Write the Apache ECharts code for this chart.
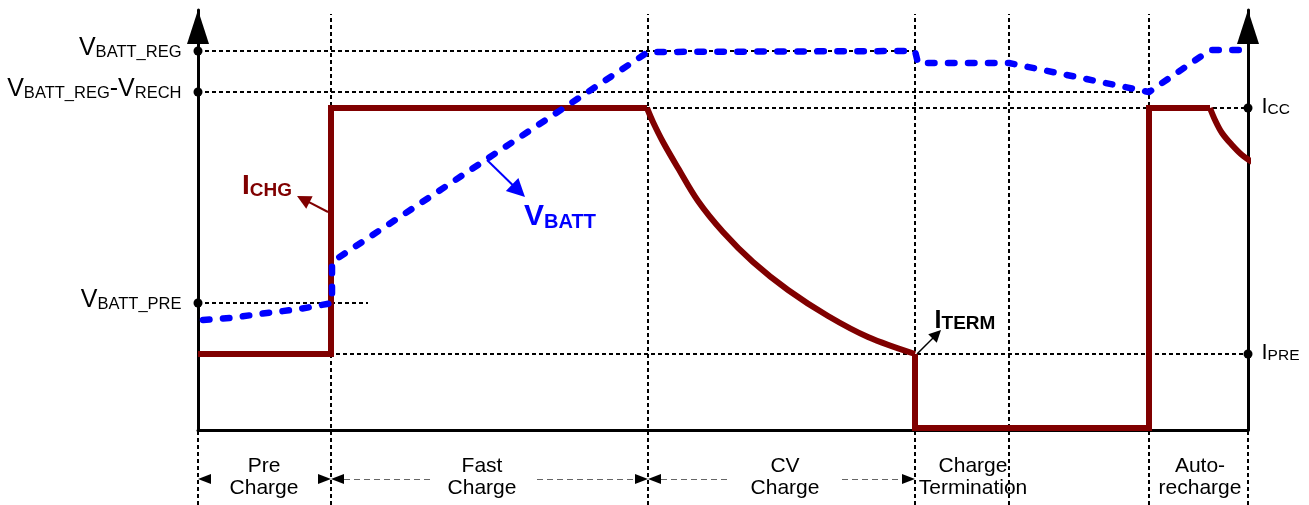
<!DOCTYPE html>
<html>
<head>
<meta charset="utf-8">
<style>
  html, body { margin: 0; padding: 0; background: #fff; }
  #chart { width: 1309px; height: 505px; }
</style>
<script src="https://cdn.jsdelivr.net/npm/echarts@6/dist/echarts.min.js"></script>
</head>
<body>
<div id="chart"></div>
<script>
// time axis: 0 .. 105, level axis: 0 .. 42 (arbitrary units, 10 px per unit)
const phaseX = [13.3, 45.0, 71.7, 81.1, 95.1];
const phaseNames = ['Pre\nCharge', 'Fast\nCharge', 'CV\nCharge', 'Charge\nTermination', 'Auto-\nrecharge'];
const phaseLabelX = [6.6, 28.4, 58.7, 77.5, 100.2];

// left axis levels (voltage)
const leftLevels = [37.9, 33.8, 12.7];
const leftLabels = ['{m|V}{s|BATT_REG}', '{m|V}{s|BATT_REG}{m|-V}{s|RECH}', '{m|V}{s|BATT_PRE}'];
// right axis levels (current)
const rightLevels = [32.2, 7.6];
const rightLabels = ['{m|I}{s|CC}', '{m|I}{s|PRE}'];

// horizontal dotted guides: [level, xFrom, xTo]
const hGuides = [
  [37.9, 0, 71.7],
  [33.8, 0, 95.1],
  [32.2, 13.3, 105],
  [12.7, 0, 17.0],
  [7.6, 11.7, 105]
];

// charge current: stepped parts
const ichgSteps = [
  [0, 7.6], [13.3, 7.6], [13.3, 32.2], [44.9, 32.2]
];
const ichgTermSteps = [
  [71.7, 7.6], [71.7, 0.2], [95.1, 0.2], [95.1, 32.2], [101.2, 32.2]
];
// charge current: CV taper curves
const ichgCv = [
  [44.9, 32.2], [45.5, 30.8], [46.5, 28.8], [48, 26.2], [50, 22.9], [52.5, 19.8], [55.5, 16.8],
  [59, 14.0], [63, 11.4], [67, 9.3], [71.7, 7.6]
];
const ichgAuto = [
  [101.2, 32.2], [101.7, 31.0], [102.4, 29.7], [103.4, 28.5], [104.4, 27.5], [105.4, 26.8]
];

// battery voltage
const vbatt = [
  [0.5, 11.0], [3.2, 11.2], [6.9, 11.7], [10.2, 12.1], [13.4, 12.7],
  [13.4, 16.8], [45.0, 37.8], [71.7, 37.9], [72.0, 36.7], [81.1, 36.7],
  [95.1, 33.8], [100.2, 37.3], [101.4, 38.0], [104.2, 38.0]
];

// callout arrows: [from, to]
const ichgArrow = [[13.0, 21.8], [9.9, 23.4]];
const vbattArrow = [[28.9, 27.0], [32.7, 23.3]];
const itermArrow = [[71.9, 7.6], [74.3, 10.0]];

// callout text centres
const ichgText = [6.9, 24.4];
const vbattText = [36.2, 21.3];
const itermText = [76.7, 10.9];

// phase span arrows below the axis
const spanY = -4.9;
const spanTips = [[0, 'left'], [13.3, 'right'], [13.3, 'left'], [45.0, 'right'], [45.0, 'left'], [71.7, 'right']];
const spanTails = [[14.6, 23.2], [33.9, 43.7], [46.3, 53.0], [64.4, 70.4]];

const PX = 10;
const FONT = '"Liberation Sans", Arial, sans-serif';
const RED = '#800000', BLUE = '#0000ff';

function arrowCoords(from, to, sizePx) {
  // pull end back so the tip of the centred triangle sits on 'to'
  const dx = to[0] - from[0], dy = to[1] - from[1];
  const len = Math.hypot(dx, dy) * PX;
  const k = (len - sizePx / 2) / len;
  return [from, [from[0] + dx * k, from[1] + dy * k]];
}

const guideLines = hGuides.map(g => ({ coords: [[g[1], g[0]], [g[2], g[0]]] }))
  .concat(phaseX.map(x => ({ coords: [[x, -7.5], [x, 41.6]] })))
  .concat([0, 105].map(x => ({ coords: [[x, -7.5], [x, 0]] })));

function arrowSeries(arrow, color, width, size) {
  return {
    type: 'lines', coordinateSystem: 'cartesian2d', clip: false, silent: true, z: 5,
    symbol: ['none', 'triangle'], symbolSize: size,
    lineStyle: { color: color, width: width, opacity: 1, curveness: 0 },
    data: [{ coords: arrowCoords(arrow[0], arrow[1], size) }]
  };
}

function textSeries(pos, text, color, big, small) {
  return {
    type: 'scatter', clip: false, silent: true, z: 7, symbolSize: 1,
    itemStyle: { color: 'rgba(0,0,0,0)', opacity: 1 },
    data: [{ value: pos }],
    label: {
      show: true, position: 'inside', formatter: text, opacity: 1, color: color,
      rich: {
        m: { fontSize: big, fontWeight: 'bold', color: color, fontFamily: FONT, verticalAlign: 'bottom' },
        s: { fontSize: small, fontWeight: 'bold', color: color, fontFamily: FONT, verticalAlign: 'bottom' }
      }
    }
  };
}

function redSeries(data, smooth) {
  return {
    type: 'line', data: data, symbol: 'none', clip: false, silent: true, z: 3, smooth: smooth,
    lineStyle: { color: RED, width: 6, join: 'miter', cap: 'butt', opacity: 1 }
  };
}

const yAxisBase = {
  type: 'value', min: 0, max: 42,
  axisLine: {
    show: true, onZero: false, symbol: ['none', 'triangle'], symbolSize: [22, 34], symbolOffset: [0, -17],
    lineStyle: { color: '#000', width: 3 }
  },
  axisTick: { show: false }, axisLabel: { show: false }, splitLine: { show: false }
};

const chart = echarts.init(document.getElementById('chart'));
chart.setOption({
  animation: false,
  backgroundColor: '#fff',
  grid: { left: 198, right: 61, top: 10, bottom: 75, outerBoundsMode: 'none' },
  xAxis: {
    type: 'value', min: 0, max: 105,
    axisLine: { show: true, onZero: false, lineStyle: { color: '#000', width: 3 } },
    axisTick: { show: false }, axisLabel: { show: false }, splitLine: { show: false }
  },
  yAxis: [
    Object.assign({}, yAxisBase, { position: 'left' }),
    Object.assign({}, yAxisBase, { position: 'right' })
  ],
  series: [
    {
      type: 'lines', coordinateSystem: 'cartesian2d', clip: false, silent: true, z: 1,
      lineStyle: { color: '#000', width: 2, type: [4, 3], opacity: 1 },
      data: guideLines
    },
    redSeries(ichgSteps, false),
    redSeries(ichgCv, 0.35),
    redSeries(ichgTermSteps, false),
    redSeries(ichgAuto, 0.35),
    {
      type: 'line', data: vbatt, symbol: 'none', clip: false, silent: true, z: 4,
      lineStyle: { color: BLUE, width: 6.5, type: [6.5, 13.5], cap: 'round', join: 'round', opacity: 1 }
    },
    arrowSeries(ichgArrow, RED, 2, 14),
    arrowSeries(vbattArrow, BLUE, 2, 18),
    arrowSeries(itermArrow, '#000', 1.5, 12),
    {
      type: 'lines', coordinateSystem: 'cartesian2d', clip: false, silent: true, z: 2,
      lineStyle: { color: '#666', width: 1, type: [6, 4], opacity: 1 },
      data: spanTails.map(t => ({ coords: [[t[0], spanY], [t[1], spanY]] }))
    },
    {
      type: 'scatter', clip: false, silent: true, z: 5,
      symbol: 'triangle', symbolSize: [10, 13], itemStyle: { color: '#000', opacity: 1 },
      data: spanTips.map(t => ({
        value: [t[0] + (t[1] === 'left' ? 0.65 : -0.65), spanY],
        symbolRotate: t[1] === 'left' ? 90 : -90
      }))
    },
    {
      type: 'scatter', clip: false, silent: true, z: 6,
      symbol: 'circle', symbolSize: 9, itemStyle: { color: '#000', opacity: 1 },
      data: leftLevels.map((y, i) => ({ value: [0, y], label: { formatter: leftLabels[i] } })),
      label: {
        show: true, position: 'left', distance: 12, offset: [0, -3], color: '#000', opacity: 1,
        rich: {
          m: { fontSize: 25, color: '#000', fontFamily: FONT, verticalAlign: 'bottom' },
          s: { fontSize: 16.5, color: '#000', fontFamily: FONT, verticalAlign: 'bottom' }
        }
      }
    },
    {
      type: 'scatter', clip: false, silent: true, z: 6,
      symbol: 'circle', symbolSize: 9, itemStyle: { color: '#000', opacity: 1 },
      data: rightLevels.map((y, i) => ({ value: [105, y], label: { formatter: rightLabels[i] } })),
      label: {
        show: true, position: 'right', distance: 9, offset: [0, -1], color: '#000', opacity: 1,
        rich: {
          m: { fontSize: 22, color: '#000', fontFamily: FONT, verticalAlign: 'bottom' },
          s: { fontSize: 15.5, color: '#000', fontFamily: FONT, verticalAlign: 'bottom' }
        }
      }
    },
    textSeries(ichgText, '{m|I}{s|CHG}', RED, 28, 19),
    textSeries(vbattText, '{m|V}{s|BATT}', BLUE, 30, 20),
    textSeries(itermText, '{m|I}{s|TERM}', '#000', 25, 19),
    {
      type: 'scatter', clip: false, silent: true, z: 6, symbolSize: 1,
      itemStyle: { color: 'rgba(0,0,0,0)', opacity: 1 },
      data: phaseLabelX.map((x, i) => ({ value: [x, -4.7], label: { formatter: phaseNames[i] } })),
      label: {
        show: true, position: 'inside', fontSize: 21, lineHeight: 22, opacity: 1,
        color: '#000', fontFamily: FONT, align: 'center'
      }
    }
  ]
});
</script>
</body>
</html>
